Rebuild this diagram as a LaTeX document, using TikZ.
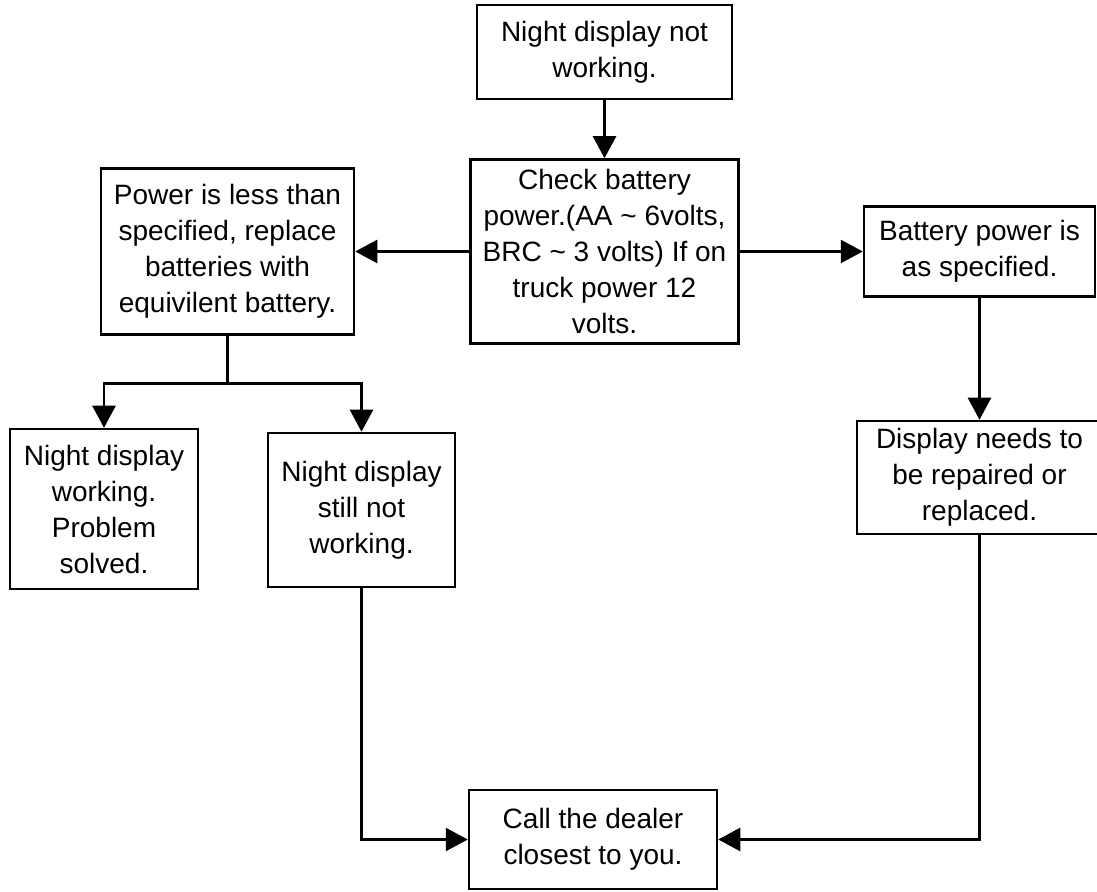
\documentclass[tikz,border=0pt]{standalone}
\usepackage{fontspec}
\setmainfont{Liberation Sans}
\usepackage{xcolor,tikz}
\usetikzlibrary{arrows.meta,positioning}

\begin{document}
\begin{tikzpicture}[
    x=0.5pt,
    y=-0.5pt,
    font=\fontsize{14}{18}\selectfont,
    box/.style={
        draw=black,
        line width=1.25pt,
        align=center,
        inner sep=2pt
    },
    arr/.style={
        -{Triangle[length=11pt,width=11.5pt]},
        line width=1.25pt,
        draw=black
    }
]
\useasboundingbox (0,0) rectangle (1097,892);

\node[box,minimum width=127.5pt,minimum height=47pt] (fault) at (604.5,52)
{Night display not\\working.};

\node[box,minimum width=134pt,minimum height=92pt,below=29pt of fault] (check)
{Check battery\\power.(AA \textasciitilde{} 6volts,\\BRC \textasciitilde{} 3 volts) If on\\truck power 12\\volts.};

\node[box,minimum width=126.5pt,minimum height=83pt,left=57pt of check] (low)
{Power is less than\\specified, replace\\batteries with\\equivilent battery.};

\node[box,minimum width=115.5pt,minimum height=45pt,right=61.5pt of check] (ok)
{Battery power is\\as specified.};

\node[box,minimum width=94pt,minimum height=80pt] (solved) at (104,509)
{Night display\\working.\\Problem\\solved.};

\node[box,minimum width=93.5pt,minimum height=77pt] (still) at (361.5,510)
{Night display\\still not\\working.};

\node[box,minimum width=122.5pt,minimum height=56.5pt,below=61pt of ok] (repair)
{Display needs to\\be repaired or\\replaced.};

\node[box,minimum width=124pt,minimum height=49.5pt] (dealer) at (593,839.5)
{Call the dealer\\closest to you.};

\coordinate[below=24pt of low.south] (split);

\draw[arr] (fault)--(check);
\draw[arr] (check)--(low);
\draw[arr] (check)--(ok);
\draw[arr] (ok)--(repair);

\draw[line width=1.25pt] (low.south)--(split);
\draw[arr] (split)-|(solved);
\draw[arr] (split)-|(still);

\draw[arr] (still)|-(dealer);
\draw[arr] (repair)|-(dealer);

\end{tikzpicture}
\end{document}
